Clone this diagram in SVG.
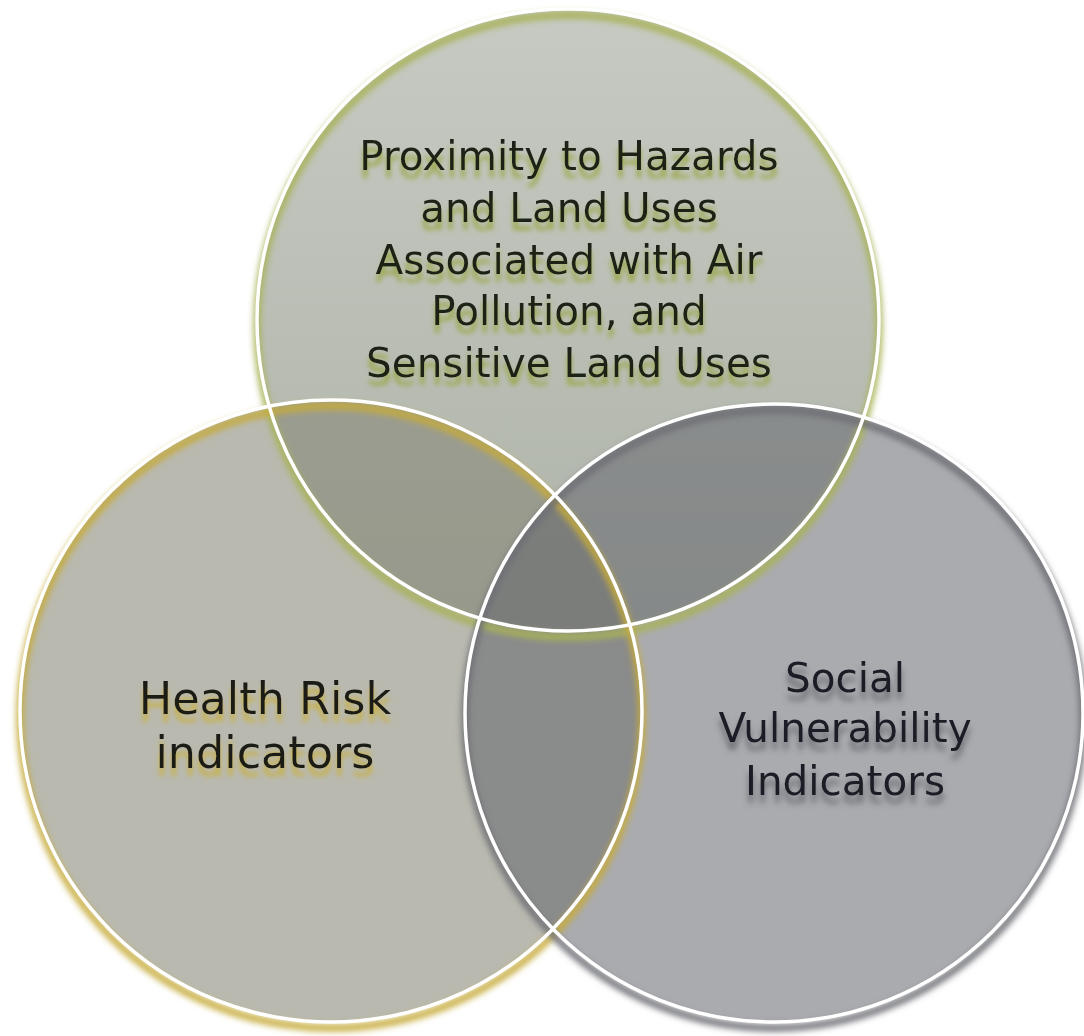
<svg xmlns="http://www.w3.org/2000/svg" xmlns:xlink="http://www.w3.org/1999/xlink" width="1084" height="1036" viewBox="0 0 1084 1036">
  <defs>
    <linearGradient id="gTop" x1="0" y1="0" x2="0" y2="1">
      <stop offset="0" stop-color="#c6cac2"/>
      <stop offset="1" stop-color="#aeb3a9"/>
    </linearGradient>
    <filter id="ringBlur" x="-10%" y="-10%" width="120%" height="120%">
      <feGaussianBlur stdDeviation="3"/>
    </filter>
    <filter id="shTop" x="-10%" y="-20%" width="120%" height="160%">
      <feGaussianBlur in="SourceAlpha" stdDeviation="2.5" result="b"/>
      <feOffset in="b" dx="0" dy="8" result="o"/>
      <feFlood flood-color="#98a540" flood-opacity="0.95"/>
      <feComposite in2="o" operator="in" result="s"/>
      <feMerge><feMergeNode in="s"/><feMergeNode in="SourceGraphic"/></feMerge>
    </filter>
    <filter id="shLeft" x="-10%" y="-20%" width="120%" height="160%">
      <feGaussianBlur in="SourceAlpha" stdDeviation="2.5" result="b"/>
      <feOffset in="b" dx="0" dy="8" result="o"/>
      <feFlood flood-color="#c9b03c" flood-opacity="0.9"/>
      <feComposite in2="o" operator="in" result="s"/>
      <feMerge><feMergeNode in="s"/><feMergeNode in="SourceGraphic"/></feMerge>
    </filter>
    <filter id="shRight" x="-10%" y="-20%" width="120%" height="160%">
      <feGaussianBlur in="SourceAlpha" stdDeviation="3" result="b"/>
      <feOffset in="b" dx="0" dy="8" result="o"/>
      <feFlood flood-color="#4a4c52" flood-opacity="0.75"/>
      <feComposite in2="o" operator="in" result="s"/>
      <feMerge><feMergeNode in="s"/><feMergeNode in="SourceGraphic"/></feMerge>
    </filter>
    <circle id="cTop" cx="568" cy="320" r="311"/>
    <circle id="cLeft" cx="331" cy="711" r="311"/>
    <circle id="cRight" cx="774" cy="713" r="309"/>
  </defs>
  <style>
    .lbl { font-family: "DejaVu Sans", "Liberation Sans", sans-serif; text-anchor: middle; }
    .ring { fill: none; stroke: #ffffff; stroke-width: 3.5; }
    .shade { fill: none; stroke-width: 7; filter: url(#ringBlur); }
  </style>
  <rect x="0" y="0" width="1084" height="1036" fill="#ffffff"/>

  <g id="node-top">
    <use xlink:href="#cTop" fill="url(#gTop)"/>
    <g class="lbl" font-size="40.5" fill="#1c2118" filter="url(#shTop)">
      <text x="569" y="170">Proximity to Hazards</text>
      <text x="569" y="222">and Land Uses</text>
      <text x="569" y="274">Associated with Air</text>
      <text x="569" y="325">Pollution, and</text>
      <text x="569" y="377">Sensitive Land Uses</text>
    </g>
  </g>

  <g id="node-left">
    <use xlink:href="#cLeft" fill="#868677" fill-opacity="0.58"/>
    <g class="lbl" font-size="44.5" fill="#1e1c18" filter="url(#shLeft)">
      <text x="265" y="714">Health Risk</text>
      <text x="265" y="768">indicators</text>
    </g>
  </g>

  <g id="node-right">
    <use xlink:href="#cRight" fill="#64666e" fill-opacity="0.55"/>
    <g class="lbl" font-size="40.5" fill="#1c1e26" filter="url(#shRight)">
      <text x="845" y="692">Social</text>
      <text x="845" y="742">Vulnerability</text>
      <text x="845" y="795">Indicators</text>
    </g>
  </g>

  <g id="outlines">
    <use xlink:href="#cTop" class="shade" stroke="#a9b257" transform="translate(0,6)"/>
    <use xlink:href="#cLeft" class="shade" stroke="#c6ab3a" transform="translate(0,6)"/>
    <use xlink:href="#cRight" class="shade" stroke="#6d6e74" transform="translate(0,6)"/>
    <use xlink:href="#cTop" class="ring"/>
    <use xlink:href="#cLeft" class="ring"/>
    <use xlink:href="#cRight" class="ring"/>
  </g>
</svg>
